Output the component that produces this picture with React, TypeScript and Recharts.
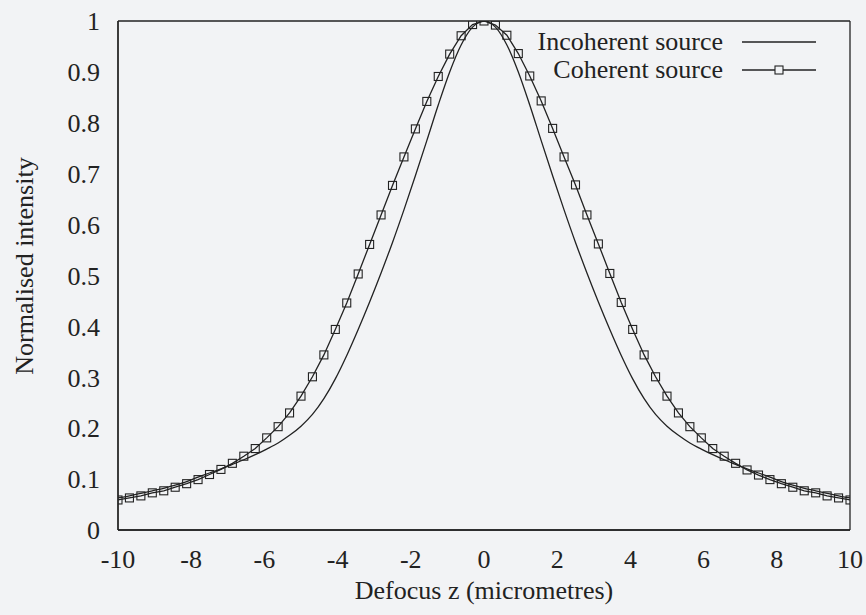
import React from 'react';
import { LineChart, Line, XAxis, YAxis, Legend, Label } from 'recharts';

// Defocus positions (micrometres) at which both curves were read
const defocus = [
  -10, -9.6875, -9.375, -9.0625, -8.75, -8.4375, -8.125, -7.8125, -7.5, -7.1875,
  -6.875, -6.5625, -6.25, -5.9375, -5.625, -5.3125, -5, -4.6875, -4.375, -4.0625,
  -3.75, -3.4375, -3.125, -2.8125, -2.5, -2.1875, -1.875, -1.5625, -1.25, -0.9375,
  -0.625, -0.3125, 0,
  0.3125, 0.625, 0.9375, 1.25, 1.5625, 1.875, 2.1875, 2.5, 2.8125, 3.125,
  3.4375, 3.75, 4.0625, 4.375, 4.6875, 5, 5.3125, 5.625, 5.9375, 6.25,
  6.5625, 6.875, 7.1875, 7.5, 7.8125, 8.125, 8.4375, 8.75, 9.0625, 9.375,
  9.6875, 10,
];

const incoherentSource = [
  0.063, 0.067, 0.072, 0.077, 0.082, 0.088, 0.095, 0.104, 0.112, 0.120,
  0.129, 0.138, 0.148, 0.159, 0.171, 0.186, 0.204, 0.227, 0.258, 0.297,
  0.343, 0.394, 0.448, 0.505, 0.565, 0.629, 0.696, 0.765, 0.835, 0.900,
  0.953, 0.988, 1.0,
  0.988, 0.953, 0.900, 0.835, 0.765, 0.696, 0.629, 0.565, 0.505, 0.448,
  0.394, 0.343, 0.297, 0.258, 0.227, 0.204, 0.186, 0.171, 0.159, 0.148,
  0.138, 0.129, 0.120, 0.112, 0.104, 0.095, 0.088, 0.082, 0.077, 0.072,
  0.067, 0.063,
];

const coherentSource = [
  0.059, 0.063, 0.067, 0.073, 0.077, 0.084, 0.091, 0.099, 0.109, 0.119,
  0.131, 0.145, 0.160, 0.181, 0.203, 0.230, 0.263, 0.301, 0.344, 0.394,
  0.446, 0.503, 0.561, 0.619, 0.677, 0.733, 0.788, 0.842, 0.891, 0.935,
  0.971, 0.993, 1.0,
  0.992, 0.972, 0.936, 0.892, 0.843, 0.789, 0.733, 0.678, 0.619, 0.562,
  0.504, 0.447, 0.394, 0.344, 0.301, 0.263, 0.230, 0.203, 0.181, 0.160,
  0.145, 0.131, 0.118, 0.108, 0.099, 0.091, 0.084, 0.077, 0.073, 0.067,
  0.063, 0.059,
];

const xTicks = [-10, -8, -6, -4, -2, 0, 2, 4, 6, 8, 10];
const yTicks = [0, 0.1, 0.2, 0.3, 0.4, 0.5, 0.6, 0.7, 0.8, 0.9, 1];

const incoherentName = 'Incoherent source';
const coherentName = 'Coherent source';
const legendOrder = ['incoherent', 'coherent'];
const xTitle = 'Defocus z (micrometres)';
const yTitle = 'Normalised intensity';

const data = defocus.map((z, i) => ({
  z,
  incoherent: incoherentSource[i],
  coherent: coherentSource[i],
}));

const FONT = '"Liberation Serif", "Times New Roman", serif';
const INK = '#222222';
const BG = '#f2f3f5';
const FS = 26;
const LW = 1.3;

const SquareDot = (props: any) => {
  const { cx, cy, index } = props;
  if (cx == null || cy == null) return null;
  return (
    <rect
      key={`sq-${index}`}
      x={cx - 4}
      y={cy - 4}
      width={8}
      height={8}
      fill="none"
      stroke={INK}
      strokeWidth={1.1}
    />
  );
};

const renderLegend = (props: any) => {
  const payload = [...(props.payload || [])].sort(
    (a: any, b: any) => legendOrder.indexOf(a.dataKey) - legendOrder.indexOf(b.dataKey)
  );
  return (
    <div style={{ fontFamily: FONT, fontSize: FS, color: INK }}>
      {payload.map((entry: any, i: number) => (
        <div key={i} style={{ display: 'flex', alignItems: 'center', height: 28 }}>
          <div style={{ width: 243, textAlign: 'right', lineHeight: '28px', whiteSpace: 'nowrap' }}>
            {entry.value}
          </div>
          <svg width={93} height={28} style={{ display: 'block' }}>
            <line x1={19} x2={93} y1={14} y2={14} stroke={INK} strokeWidth={LW} />
            {entry.dataKey === 'coherent' && (
              <rect x={52} y={10} width={8} height={8} fill={BG} stroke={INK} strokeWidth={1.1} />
            )}
          </svg>
        </div>
      ))}
    </div>
  );
};

const tickStyle = { fontFamily: FONT, fontSize: FS, fill: INK };
const lineStyle = { stroke: INK, strokeWidth: LW };

export default function App() {
  return (
    <div style={{ position: 'absolute', left: 0, top: 0, width: 866, height: 615, background: BG }}>
      <LineChart
        width={866}
        height={615}
        data={data}
        margin={{ top: 21, right: 16, left: 0, bottom: 0 }}
      >
        {/* labelled axes (bottom / left) */}
        <XAxis
          dataKey="z"
          type="number"
          domain={[-10, 10]}
          ticks={xTicks}
          allowDataOverflow
          height={85}
          tick={tickStyle}
          tickLine={false}
          tickSize={0}
          tickMargin={20}
          axisLine={lineStyle}
        >
          <Label
            content={(p: any) => {
              const vb = p.viewBox || {};
              return (
                <text
                  x={vb.x + vb.width / 2}
                  y={599}
                  textAnchor="middle"
                  fontFamily={FONT}
                  fontSize={FS}
                  fill={INK}
                >
                  {xTitle}
                </text>
              );
            }}
          />
        </XAxis>
        <YAxis
          type="number"
          domain={[0, 1]}
          ticks={yTicks}
          allowDataOverflow
          width={118}
          tick={tickStyle}
          tickLine={false}
          tickSize={0}
          tickMargin={18}
          axisLine={lineStyle}
        >
          <Label
            content={() => {
              const cx = 33;
              const cy = 266;
              return (
                <text
                  x={cx}
                  y={cy}
                  transform={`rotate(-90 ${cx} ${cy})`}
                  textAnchor="middle"
                  fontFamily={FONT}
                  fontSize={FS}
                  fill={INK}
                >
                  {yTitle}
                </text>
              );
            }}
          />
        </YAxis>

        {/* mirrored axes: inward ticks and the frame on all four sides */}
        <XAxis
          xAxisId="bm"
          orientation="bottom"
          dataKey="z"
          type="number"
          domain={[-10, 10]}
          ticks={xTicks}
          allowDataOverflow
          mirror
          height={10}
          tick={false}
          tickSize={7}
          tickLine={lineStyle}
          axisLine={lineStyle}
        />
        <XAxis
          xAxisId="top"
          orientation="top"
          dataKey="z"
          type="number"
          domain={[-10, 10]}
          ticks={xTicks}
          allowDataOverflow
          mirror
          height={10}
          tick={false}
          tickSize={7}
          tickLine={lineStyle}
          axisLine={lineStyle}
        />
        <YAxis
          yAxisId="lm"
          orientation="left"
          type="number"
          domain={[0, 1]}
          ticks={yTicks}
          allowDataOverflow
          mirror
          width={10}
          tick={false}
          tickSize={7}
          tickLine={lineStyle}
          axisLine={lineStyle}
        />
        <YAxis
          yAxisId="right"
          orientation="right"
          type="number"
          domain={[0, 1]}
          ticks={yTicks}
          allowDataOverflow
          mirror
          width={10}
          tick={false}
          tickSize={7}
          tickLine={lineStyle}
          axisLine={lineStyle}
        />

        <Legend
          layout="vertical"
          align="center"
          verticalAlign="middle"
          content={renderLegend}
          wrapperStyle={{ left: 480, top: 27.7, width: 336, height: 'auto' }}
        />
        <Line
          name={incoherentName}
          dataKey="incoherent"
          type="monotone"
          stroke={INK}
          strokeWidth={LW}
          dot={false}
          activeDot={false}
          isAnimationActive={false}
        />
        <Line
          name={coherentName}
          dataKey="coherent"
          type="linear"
          stroke={INK}
          strokeWidth={LW}
          dot={SquareDot}
          activeDot={false}
          isAnimationActive={false}
        />
      </LineChart>
    </div>
  );
}
